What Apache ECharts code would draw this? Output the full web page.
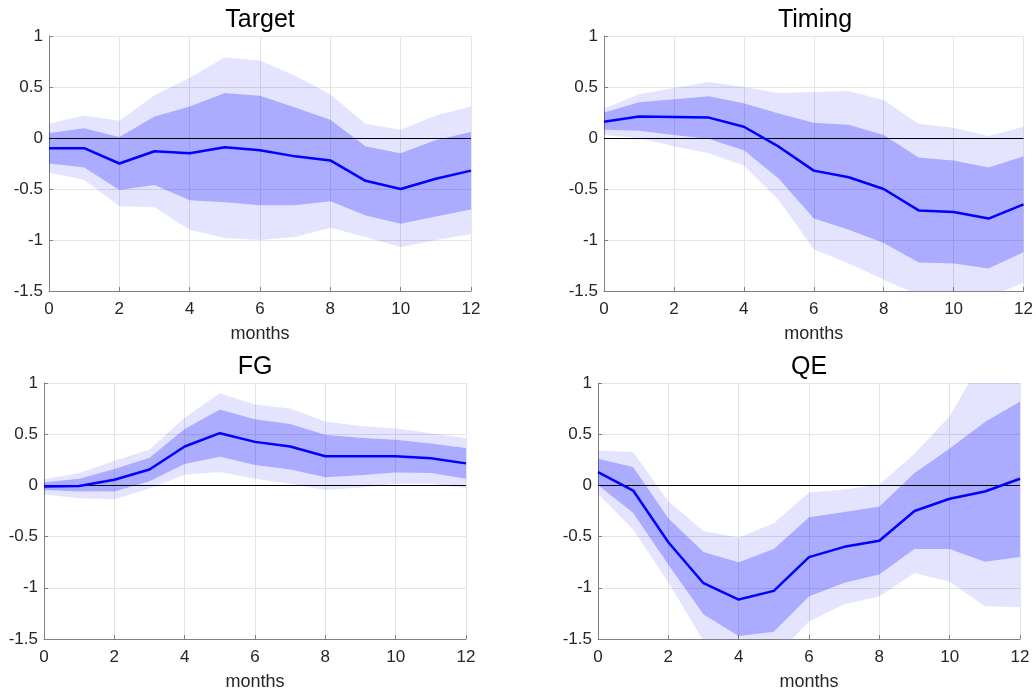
<!DOCTYPE html>
<html>
<head>
<meta charset="utf-8">
<title>IRF panels</title>
<script src="https://cdn.jsdelivr.net/npm/echarts@6/dist/echarts.min.js"></script>
<style>
  html, body { margin: 0; padding: 0; background: #fff; }
  #main { width: 1036px; height: 693px; }
</style>
</head>
<body>
<div id="main"></div>
<script>
// horizon (months)
const months = ["0", "1", "2", "3", "4", "5", "6", "7", "8", "9", "10", "11", "12"];
const panelTitles = ["Target", "Timing", "FG", "QE"];

// Target
const targetMed     = [-0.10, -0.10, -0.25, -0.13, -0.15, -0.09, -0.12, -0.18, -0.22, -0.42, -0.50, -0.40, -0.32];
const targetInnerLo = [-0.25, -0.29, -0.51, -0.46, -0.61, -0.63, -0.66, -0.66, -0.62, -0.76, -0.84, -0.77, -0.70];
const targetInnerHi = [0.05, 0.095, 0.01, 0.21, 0.31, 0.44, 0.415, 0.30, 0.18, -0.08, -0.15, -0.02, 0.06];
const targetOuterLo = [-0.34, -0.41, -0.67, -0.68, -0.90, -0.98, -1.00, -0.97, -0.88, -0.97, -1.07, -1.00, -0.94];
const targetOuterHi = [0.14, 0.22, 0.17, 0.42, 0.59, 0.79, 0.76, 0.61, 0.43, 0.14, 0.08, 0.22, 0.31];

// Timing
const timingMed     = [0.16, 0.21, 0.205, 0.20, 0.11, -0.085, -0.32, -0.385, -0.50, -0.71, -0.725, -0.79, -0.65];
const timingInnerLo = [0.08, 0.07, 0.03, -0.01, -0.12, -0.40, -0.79, -0.90, -1.03, -1.22, -1.23, -1.28, -1.12];
const timingInnerHi = [0.25, 0.35, 0.38, 0.41, 0.34, 0.24, 0.15, 0.13, 0.03, -0.19, -0.22, -0.29, -0.18];
const timingOuterLo = [0.03, 0.00, -0.08, -0.15, -0.27, -0.61, -1.09, -1.23, -1.39, -1.54, -1.56, -1.56, -1.42];
const timingOuterHi = [0.29, 0.43, 0.49, 0.55, 0.50, 0.44, 0.45, 0.46, 0.37, 0.14, 0.10, 0.02, 0.11];

// FG
const fgMed     = [-0.01, -0.005, 0.055, 0.155, 0.38, 0.51, 0.425, 0.38, 0.285, 0.285, 0.285, 0.265, 0.215];
const fgInnerLo = [-0.045, -0.06, -0.06, 0.04, 0.21, 0.28, 0.20, 0.155, 0.08, 0.10, 0.125, 0.12, 0.065];
const fgInnerHi = [0.03, 0.065, 0.16, 0.27, 0.55, 0.74, 0.645, 0.60, 0.495, 0.465, 0.445, 0.41, 0.365];
const fgOuterLo = [-0.09, -0.125, -0.135, -0.03, 0.105, 0.13, 0.065, 0.015, -0.045, -0.02, 0.015, 0.015, -0.025];
const fgOuterHi = [0.06, 0.12, 0.24, 0.35, 0.66, 0.90, 0.79, 0.75, 0.625, 0.58, 0.555, 0.51, 0.46];

// QE
const qeMed     = [0.13, -0.05, -0.555, -0.955, -1.115, -1.03, -0.70, -0.60, -0.54, -0.25, -0.13, -0.06, 0.065];
const qeInnerLo = [0.005, -0.27, -0.775, -1.26, -1.47, -1.43, -1.085, -0.95, -0.87, -0.62, -0.62, -0.745, -0.70];
const qeInnerHi = [0.26, 0.18, -0.32, -0.65, -0.75, -0.62, -0.31, -0.26, -0.205, 0.12, 0.36, 0.62, 0.82];
const qeOuterLo = [-0.085, -0.43, -0.945, -1.52, -1.78, -1.69, -1.33, -1.16, -1.085, -0.855, -0.94, -1.18, -1.19];
const qeOuterHi = [0.34, 0.325, -0.155, -0.445, -0.51, -0.37, -0.07, -0.04, 0.01, 0.31, 0.675, 1.27, 1.60];

const panels = [
  { med: targetMed, iLo: targetInnerLo, iHi: targetInnerHi, oLo: targetOuterLo, oHi: targetOuterHi },
  { med: timingMed, iLo: timingInnerLo, iHi: timingInnerHi, oLo: timingOuterLo, oHi: timingOuterHi },
  { med: fgMed, iLo: fgInnerLo, iHi: fgInnerHi, oLo: fgOuterLo, oHi: fgOuterHi },
  { med: qeMed, iLo: qeInnerLo, iHi: qeInnerHi, oLo: qeOuterLo, oHi: qeOuterHi }
];

// plot boxes
const boxes = [
  { left: 49, top: 36, width: 422, height: 255 },
  { left: 604, top: 36, width: 422, height: 255 },
  { left: 44, top: 383, width: 422, height: 256 },
  { left: 598, top: 383, width: 422, height: 256 }
];

const FONT = "Liberation Sans, Arial, sans-serif";
const outerCol = "rgba(0,0,255,0.105)";
const innerCol = "rgba(0,0,255,0.33)";

function diff(a, b) {
  return a.map((v, i) => v - b[i]);
}

let grids = [], xAxes = [], yAxes = [], titles = [], series = [];

panels.forEach((p, k) => {
  const b = boxes[k];
  grids.push({ left: b.left, top: b.top, width: b.width, height: b.height, containLabel: false });
  titles.push({
    text: panelTitles[k],
    left: b.left + b.width / 2,
    top: b.top - 28,
    textAlign: "center",
    padding: 0,
    textStyle: { fontFamily: FONT, fontSize: 25, fontWeight: "normal", color: "#000" }
  });
  xAxes.push({
    gridIndex: k,
    type: "category",
    data: months,
    boundaryGap: false,
    name: "months",
    nameLocation: "middle",
    nameGap: 34,
    nameTextStyle: { fontFamily: FONT, fontSize: 18, color: "#262626" },
    axisLine: { show: true, onZero: false, lineStyle: { color: "#808080", width: 1 } },
    axisTick: { show: true, inside: true, length: 4, interval: 1, lineStyle: { color: "#808080" } },
    axisLabel: { fontFamily: FONT, fontSize: 17, color: "#262626", margin: 10, interval: 1 },
    splitLine: { show: true, interval: 1, lineStyle: { color: "#e4e4e4", width: 1 } }
  });
  yAxes.push({
    gridIndex: k,
    type: "value",
    min: -1.5,
    max: 1,
    interval: 0.5,
    axisLine: { show: true, onZero: false, lineStyle: { color: "#808080", width: 1 } },
    axisTick: { show: true, inside: true, length: 4, lineStyle: { color: "#808080" } },
    axisLabel: { fontFamily: FONT, fontSize: 17, color: "#262626", margin: 6 },
    splitLine: { show: true, lineStyle: { color: "#e4e4e4", width: 1 } }
  });

  const stackName = "band" + k;
  const common = {
    type: "line",
    xAxisIndex: k,
    yAxisIndex: k,
    stack: stackName,
    stackStrategy: "all",
    symbol: "none",
    silent: true,
    lineStyle: { width: 0, opacity: 0 },
    emphasis: { disabled: true },
    z: 2
  };
  // invisible base at the outer lower bound, then stacked band widths
  series.push(Object.assign({}, common, { data: p.oLo }));
  series.push(Object.assign({}, common, { data: diff(p.iLo, p.oLo), areaStyle: { color: outerCol, opacity: 1 } }));
  series.push(Object.assign({}, common, { data: diff(p.iHi, p.iLo), areaStyle: { color: innerCol, opacity: 1 } }));
  series.push(Object.assign({}, common, { data: diff(p.oHi, p.iHi), areaStyle: { color: outerCol, opacity: 1 } }));

  // median response
  series.push({
    type: "line",
    xAxisIndex: k,
    yAxisIndex: k,
    data: p.med,
    symbol: "none",
    silent: true,
    z: 5,
    lineStyle: { color: "#0000ff", width: 2.5 },
    markLine: {
      silent: true,
      symbol: "none",
      label: { show: false },
      lineStyle: { color: "#000", width: 1, type: "solid" },
      data: [{ yAxis: 0 }],
      z: 4
    }
  });
});

const chart = echarts.init(document.getElementById("main"));
chart.setOption({
  animation: false,
  backgroundColor: "#fff",
  title: titles,
  grid: grids,
  xAxis: xAxes,
  yAxis: yAxes,
  series: series
});
</script>
</body>
</html>
